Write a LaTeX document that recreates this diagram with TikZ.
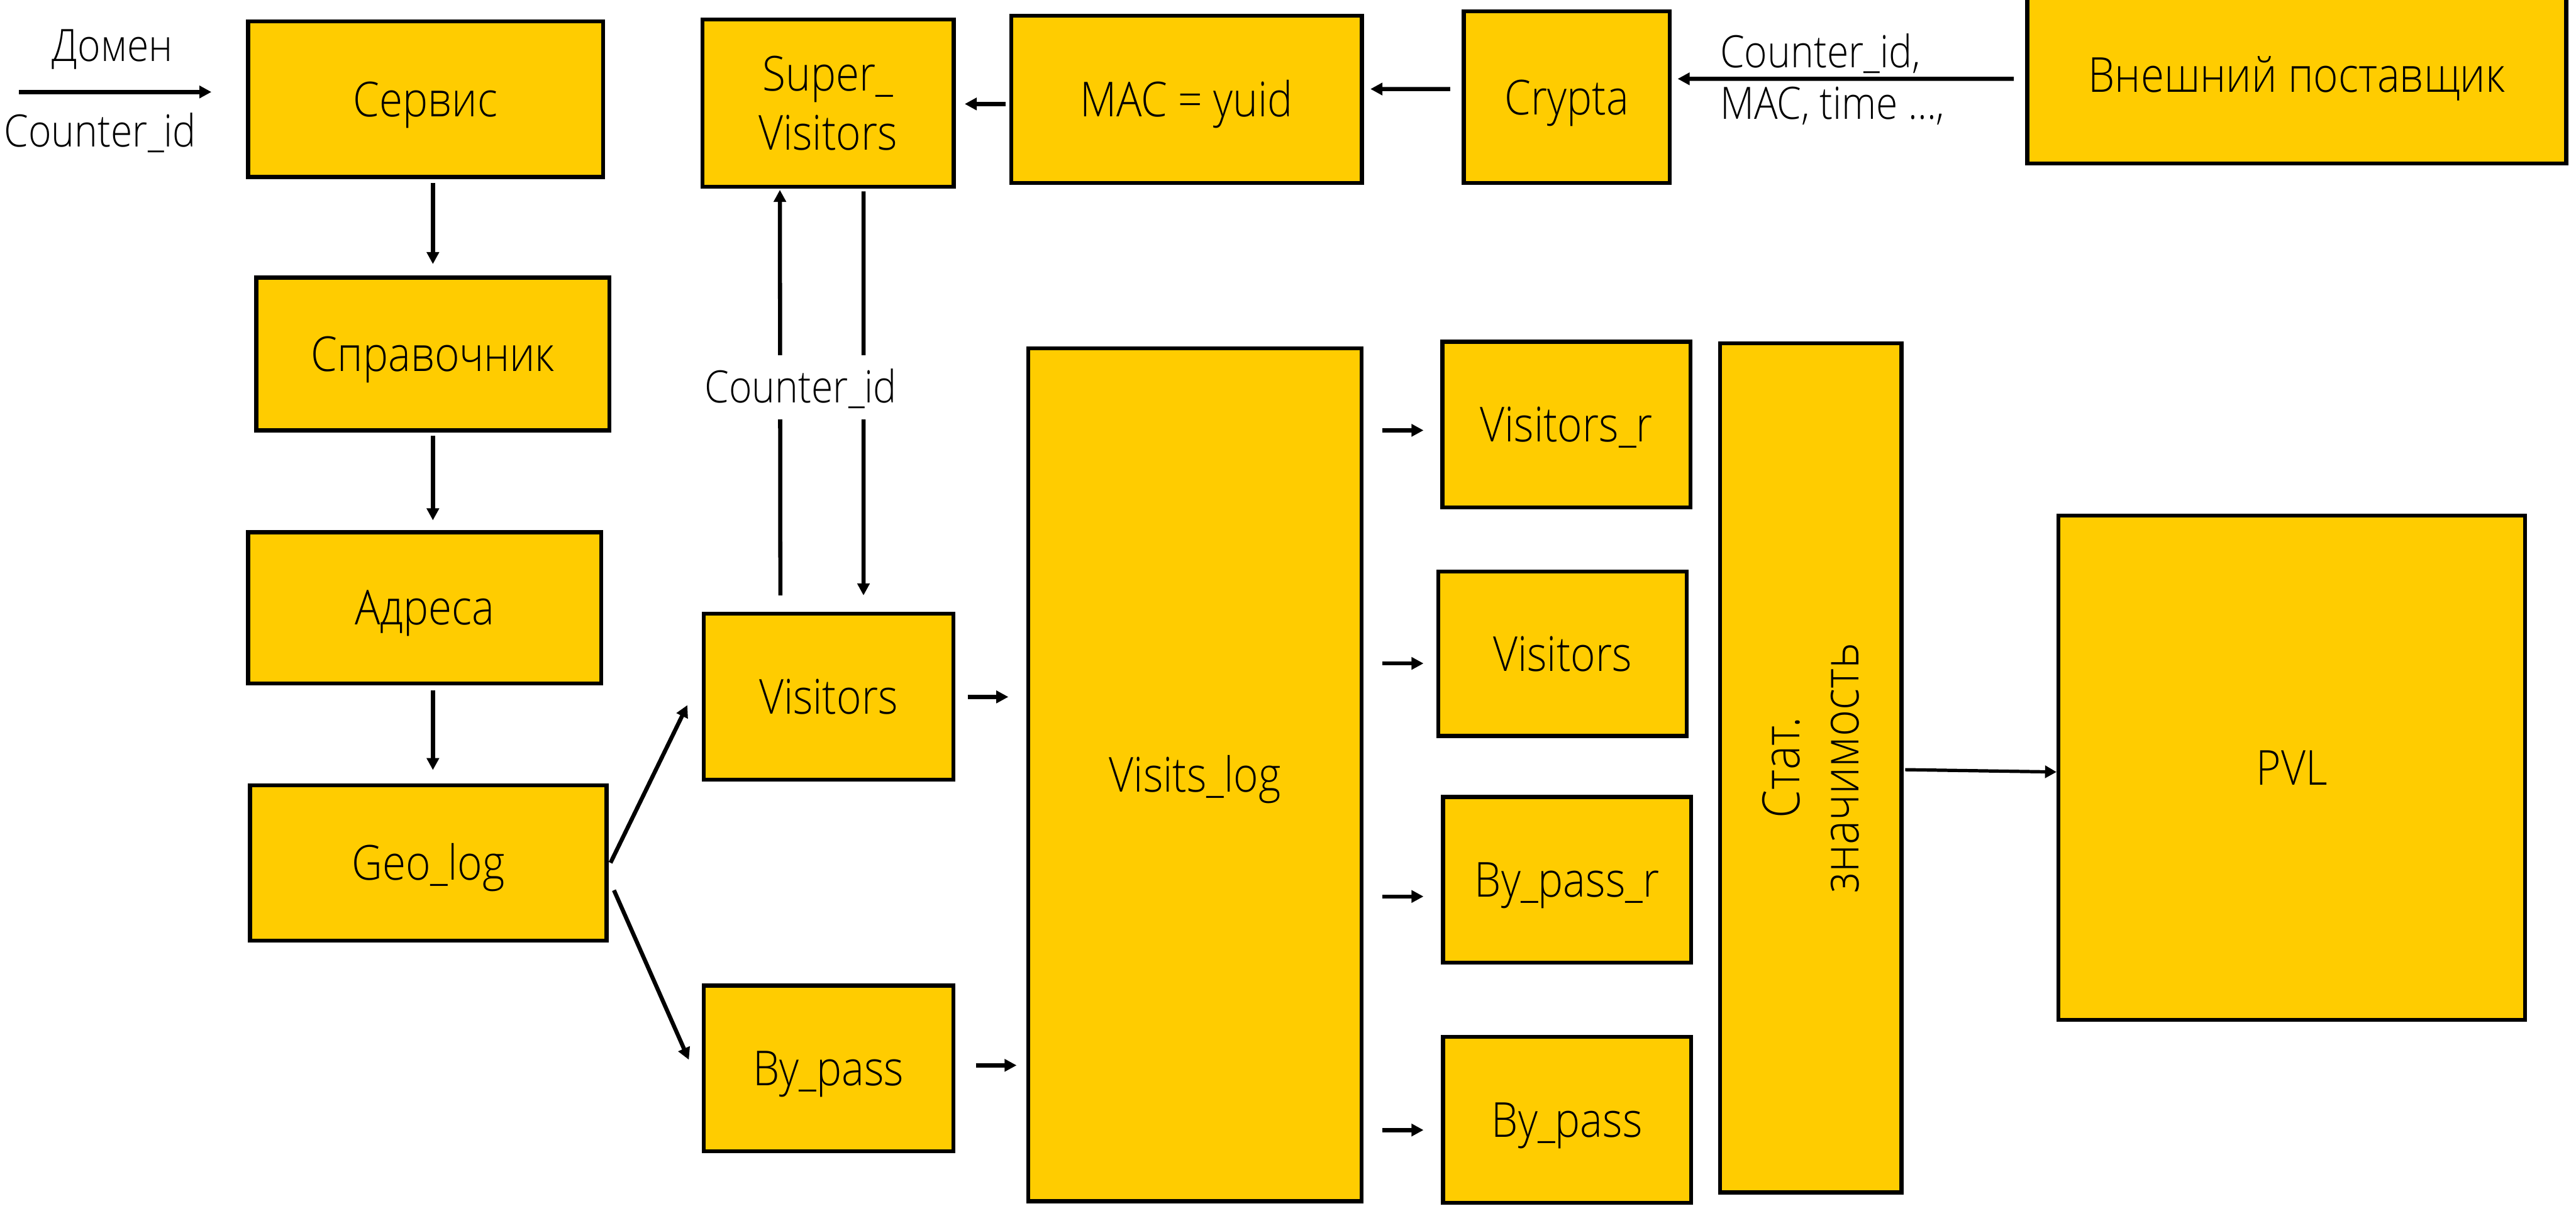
\documentclass[tikz,border=0pt]{standalone}
\usepackage{fontspec}
\IfFontExistsTF{Open Sans Light}{\setmainfont{Open Sans Light}[FakeStretch=0.88]}{\setmainfont{Open Sans}[FakeStretch=0.88]}
\usetikzlibrary{arrows.meta,calc}
\definecolor{ybox}{RGB}{255,204,0}
\newcommand\boxfont{\fontsize{17.6pt}{21.5pt}\selectfont}
\newcommand\lblfont{\fontsize{16.3pt}{19pt}\selectfont}
\newcommand\statfont{\fontsize{18.8pt}{21.8pt}\selectfont}
\begin{document}
\begin{tikzpicture}[x=0.6pt,y=-0.6pt,
  box/.style 2 args={draw=black, line width=1.45pt, fill=ybox, inner sep=0pt,
    minimum width=#1*0.6pt, minimum height=#2*0.6pt, font=\boxfont,
    text height=12.6pt, text depth=0pt},
  mbox/.style 2 args={draw=black, line width=1.45pt, fill=ybox, inner sep=0pt,
    minimum width=#1*0.6pt, minimum height=#2*0.6pt, font=\boxfont, align=center},
  arr/.style={line width=1.5pt, -{Triangle[length=4.4pt,width=4.4pt]}},
  lbl/.style={font=\lblfont, inner sep=0pt}]
\fill[white] (0,0) rectangle (1568,737);
\useasboundingbox (0,0) rectangle (1568,737);

% boxes
\node[box={216}{94.7}] (serv) at (259,60.4) {Сервис};
\node[box={215}{93}] (sprav) at (263.5,215.5) {Справочник};
\node[box={215}{92}] (addr) at (258.5,370) {Адреса};
\node[box={217}{94.7}] (geo) at (260.7,525.4) {Geo\_log};
\node[mbox={153}{102}] (super) at (504,62.8) {Super\_\\Visitors};
\node[box={213.5}{102}] (mac) at (722.2,60.5) {MAC = yuid};
\node[box={125.5}{104.4}] (crypta) at (953.7,59.2) {Crypta};
\node[box={328}{107.5}] (ext) at (1398,45.7) {Внешний поставщик};
\node[box={152}{101}] (visL) at (504.3,424.2) {Visitors};
\node[box={152}{101}] (bypL) at (504.3,650.5) {By\_pass};
\node[box={203}{519.4}] (visits) at (727.4,471.7) {Visits\_log};
\node[box={151}{101}] (visRr) at (953.5,258.5) {Visitors\_r};
\node[box={151}{100}] (visR) at (951.1,398.1) {Visitors};
\node[box={151}{100.8}] (bprr) at (953.8,535.6) {By\_pass\_r};
\node[box={151}{101}] (bpr) at (953.8,681.8) {By\_pass};
\node[mbox={110.5}{517}, font=\statfont] (stat) at (1102.2,467.5) {};
\node[font=\statfont, align=center, rotate=90, inner sep=0pt] (stattext) at (stat.center) {Стат.\\значимость};
\node[box={284}{307}] (pvl) at (1395,467.5) {PVL};

% input arrow
\coordinate (inA) at (11.5,56);
\coordinate (inB) at (128.7,56);
\draw[arr] (inA) -- (inB);
\node[lbl, anchor=base] (dom) at (68.5,37.4) {Домен};
\node[lbl, anchor=base] (cid1) at (61,89.4) {Counter\_id};

% left column
\draw[arr, shorten <=2.5*0.6pt, shorten >=7*0.6pt] (serv.south -| sprav.north) -- (sprav.north);
\draw[arr, shorten <=2*0.6pt, shorten >=6*0.6pt] (sprav.south) -- (sprav.south |- addr.north);
\draw[arr, shorten <=3*0.6pt, shorten >=8*0.6pt] (addr.south -| sprav.south) -- (sprav.south |- geo.north);

\draw[arr] ($(geo.east)+(1.2,-0.1)$) -- ($(visL.west)+(-8.7,5.1)$);
\draw[arr] ($(geo.east)+(3.3,16.6)$) -- ($(bypL.west)+(-7.8,-5.3)$);

% super visitors links
\draw[arr] ($(visL.north)+(-29.3,-10)$) -- ($(super.south)+(-29.3,0.6)$);
\draw[arr] ($(super.south)+(21.6,1.5)$) -- ($(visL.north)+(21.3,-10)$);
\node[lbl, anchor=base, fill=white, inner xsep=0pt, inner ysep=0pt,
      text height=17.3pt, text depth=6.1pt] (cid2) at (487.4,245.2) {Counter\_id};

% top row
\draw[arr] ($(mac.west)+(-2,2.8)$) -- ($(super.east)+(5.5,0.5)$);
\draw[arr] ($(crypta.west)+(-7,-5)$) -- ($(mac.east)+(4,-6.3)$);
\draw[arr] ($(ext.west)+(-7,2.3)$) -- ($(crypta.east)+(3.5,-11.2)$);
\node[lbl, anchor=base west] (cid3) at (1046.7,41) {Counter\_id,};
\node[lbl, anchor=base west] (mact) at (1046.7,72.6) {MAC, time ...,};

% into visits log
\draw[arr] ($(visL.east)+(7.5,0.1)$) -- ($(visL.east -| visits.west)+(-10.9,0.1)$);
\draw[arr] ($(bypL.east)+(12.5,-1.9)$) -- ($(bypL.east -| visits.west)+(-5.9,-1.9)$);

% out of visits log
\draw[arr] ($(visRr.west -| visits.east)+(11.4,3.5)$) -- ($(visRr.west)+(-10.3,3.5)$);
\draw[arr] ($(visR.west -| visits.east)+(11.4,5.8)$) -- ($(visR.west)+(-7.9,5.8)$);
\draw[arr] ($(bprr.west -| visits.east)+(11.4,10.2)$) -- ($(bprr.west)+(-10.6,10.2)$);
\draw[arr] ($(bpr.west -| visits.east)+(11.4,6.2)$) -- ($(bpr.west)+(-10.6,6.2)$);

% stat -> pvl
\draw[line width=1.2pt, -{Triangle[length=4.2pt,width=4.4pt]}] ($(stat.east)+(1,1.1)$) -- ($(pvl.west)+(0,2.5)$);
\end{tikzpicture}
\end{document}
